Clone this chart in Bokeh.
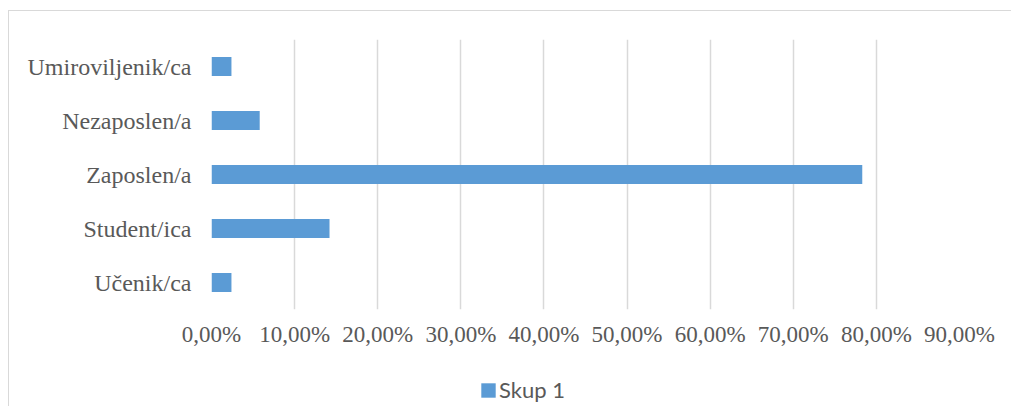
from bokeh.plotting import figure
from bokeh.layouts import column
from bokeh.models import FixedTicker, CustomJSTickFormatter, Legend, LegendItem, ColumnDataSource
from bokeh.embed import file_html
from bokeh.resources import INLINE

categories = ["Učenik/ca", "Student/ica", "Zaposlen/a", "Nezaposlen/a", "Umiroviljenik/ca"]
values = [2.4, 14.2, 78.3, 5.8, 2.4]
series_name = "Skup 1"
x_ticks = [0, 10, 20, 30, 40, 50, 60, 70, 80, 90]

BAR_COLOR = "#5b9bd5"
TEXT_COLOR = "#595959"

src = ColumnDataSource(dict(cat=categories, val=values))

p = figure(width=1002, height=350, y_range=categories, x_range=(0, 90),
           output_backend="svg", toolbar_location=None,
           min_border_left=202, min_border_right=52, min_border_top=28, min_border_bottom=52)
p.outline_line_color = None
p.background_fill_color = "white"
p.border_fill_color = "white"

r = p.hbar(y="cat", right="val", left=0, height=0.35, source=src,
           fill_color=BAR_COLOR, line_color=None)

p.xaxis.ticker = FixedTicker(ticks=x_ticks)
p.xaxis.formatter = CustomJSTickFormatter(code="return tick.toFixed(2).replace('.', ',') + '%';")
for ax in (p.xaxis[0], p.yaxis[0]):
    ax.axis_line_color = None
    ax.major_tick_line_color = None
    ax.minor_tick_line_color = None
    ax.major_label_text_font = "Liberation Serif"
    ax.major_label_text_color = TEXT_COLOR
p.xaxis.major_label_text_font_size = "23px"
p.yaxis.major_label_text_font_size = "24px"
p.xaxis.major_label_standoff = 6
p.yaxis.major_label_standoff = 14

p.ygrid.grid_line_color = None
p.xgrid.grid_line_color = "#d9d9d9"
p.xgrid.grid_line_width = 1.5
p.xgrid.ticker = FixedTicker(ticks=x_ticks)

# legend strip below the chart (its frame is aligned with the chart frame)
leg = figure(width=1002, height=45, x_range=(0, 1), y_range=(0, 1),
             output_backend="svg", toolbar_location=None,
             x_axis_type=None, y_axis_type=None,
             min_border_left=0, min_border_right=0, min_border_top=0, min_border_bottom=0)
leg.outline_line_color = None
leg.grid.grid_line_color = None
leg.background_fill_color = "white"
leg.border_fill_color = "white"
# legend key renderer: a zero-width bar placed outside the visible range
legend_src = ColumnDataSource(dict(y=[-5], right=[0]))
key = leg.hbar(y="y", right="right", left=0, height=0.5, source=legend_src,
               fill_color=BAR_COLOR, line_color=None)

legend = Legend(items=[LegendItem(label=series_name, renderers=[key])],
                location=(268, 3), orientation="horizontal",
                padding=0, margin=0, spacing=0,
                glyph_width=18, glyph_height=18, label_standoff=2,
                label_text_font="Lato", label_text_font_size="22px",
                label_text_color=TEXT_COLOR,
                border_line_color=None, background_fill_alpha=0)
leg.add_layout(legend, "center")

layout = column(p, leg, margin=(10, 0, 0, 8), spacing=0,
                styles={"border-left": "1px solid #d9d9d9", "border-top": "1px solid #d9d9d9"})

open("out.html", "w").write(file_html(layout, INLINE))
